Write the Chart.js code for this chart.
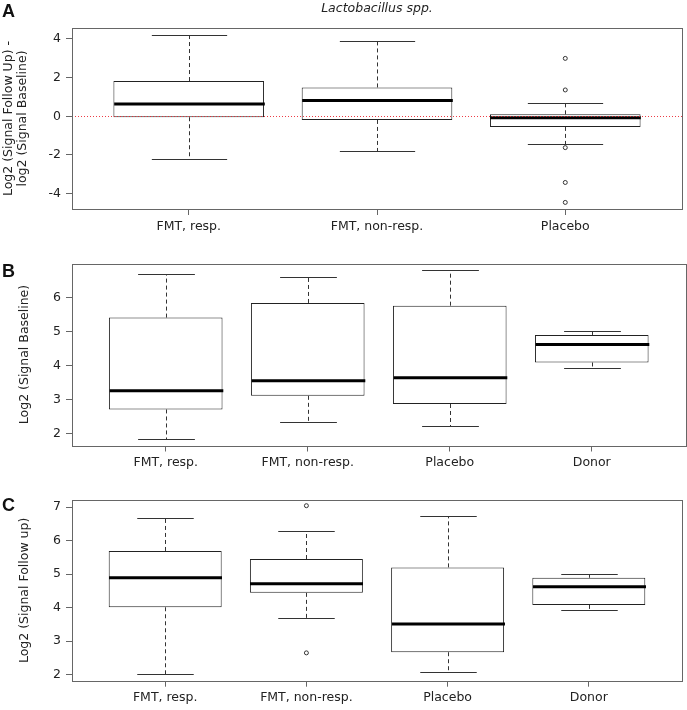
<!DOCTYPE html>
<html>
<head>
<meta charset="utf-8">
<script src="https://cdn.jsdelivr.net/npm/chart.js@4"></script>
<style>
  html, body { margin: 0; padding: 0; background: #fff; }
  #wrap { position: relative; width: 687px; height: 710px; }
  canvas { position: absolute; left: 0; }
</style>
</head>
<body>
<div id="wrap">
  <canvas id="chartA" width="687" height="240" style="top:0px"></canvas>
  <canvas id="chartB" width="687" height="236" style="top:240px"></canvas>
  <canvas id="chartC" width="687" height="234" style="top:476px"></canvas>
</div>
<script>
// Panel A: log2 follow up - log2 baseline
const catsA = ['FMT, resp.', 'FMT, non-resp.', 'Placebo'];
const minA = [-2.20, -1.80, -1.44];
const q1A = [-0.05, -0.19, -0.55];
const medA = [0.64, 0.81, -0.07];
const q3A = [1.82, 1.49, 0.10];
const maxA = [4.21, 3.90, 0.70];
const outA = [[], [], [2.99, 1.36, -1.62, -3.42, -4.45]];
const ticksA = [-4, -2, 0, 2, 4];

// Panel B: baseline
const catsB = ['FMT, resp.', 'FMT, non-resp.', 'Placebo', 'Donor'];
const minB = [1.85, 2.34, 2.21, 3.93];
const q1B = [2.71, 3.11, 2.87, 4.09];
const medB = [3.26, 3.55, 3.64, 4.62];
const q3B = [5.41, 5.84, 5.76, 4.90];
const maxB = [6.70, 6.60, 6.80, 5.01];
const outB = [[], [], [], []];
const ticksB = [2, 3, 4, 5, 6];

// Panel C: follow up
const catsC = ['FMT, resp.', 'FMT, non-resp.', 'Placebo', 'Donor'];
const minC = [2.03, 3.70, 2.07, 3.92];
const q1C = [4.01, 4.44, 2.67, 4.08];
const medC = [4.89, 4.71, 3.51, 4.62];
const q3C = [5.69, 5.45, 5.20, 4.89];
const maxC = [6.66, 6.30, 6.74, 4.99];
const outC = [[], [7.04, 2.65], [], []];
const ticksC = [2, 3, 4, 5, 6, 7];

const FONT = '"DejaVu Sans", Verdana, sans-serif';
const TXT = '#222';

function boxPanel(id, p) {
  const n = p.cats.length;
  const boxData = p.cats.map((c, i) => ({ x: i, y: [p.q1[i], p.q3[i]] }));
  const outData = [];
  p.out.forEach((arr, i) => arr.forEach(v => outData.push({ x: i, y: v })));

  // whiskers, medians, reference line, frame and panel texts
  const boxLines = {
    id: 'boxLines',
    afterDatasetsDraw(chart) {
      const ctx = chart.ctx, xs = chart.scales.x, ys = chart.scales.y;
      const bars = chart.getDatasetMeta(1).data;
      const line = (x1, y1, x2, y2) => {
        ctx.beginPath(); ctx.moveTo(x1, y1); ctx.lineTo(x2, y2); ctx.stroke();
      };
      ctx.save();
      p.cats.forEach((c, i) => {
        const cx = Math.round(xs.getPixelForValue(i)) + 0.5;
        const hw = bars[i].width / 2;
        const yMin = Math.round(ys.getPixelForValue(p.min[i])) + 0.5;
        const yMax = Math.round(ys.getPixelForValue(p.max[i])) + 0.5;
        const yQ1 = ys.getPixelForValue(p.q1[i]);
        const yQ3 = ys.getPixelForValue(p.q3[i]);
        const yMed = ys.getPixelForValue(p.med[i]);
        ctx.strokeStyle = '#333';
        ctx.lineWidth = 1;
        ctx.setLineDash([4, 3]);
        line(cx, yQ3, cx, yMax);
        line(cx, yQ1, cx, yMin);
        ctx.setLineDash([]);
        line(cx - hw / 2, yMax, cx + hw / 2, yMax);
        line(cx - hw / 2, yMin, cx + hw / 2, yMin);
        ctx.strokeStyle = '#000';
        ctx.lineWidth = 3;
        line(cx - hw, yMed, cx + hw, yMed);
      });
      const a = chart.chartArea;
      if (p.refLine !== undefined) {
        const y0 = Math.round(ys.getPixelForValue(p.refLine)) + 0.5;
        ctx.strokeStyle = 'rgba(235,40,50,0.9)';
        ctx.lineWidth = 1;
        ctx.setLineDash([1, 2]);
        line(a.left, y0, a.right, y0);
        ctx.setLineDash([]);
      }
      ctx.strokeStyle = '#666';
      ctx.lineWidth = 1;
      ctx.strokeRect(Math.round(a.left) + 0.5, Math.round(a.top) + 0.5,
        Math.round(a.right - a.left), Math.round(a.bottom - a.top));
      ctx.restore();
    },
    afterDraw(chart) {
      const ctx = chart.ctx, a = chart.chartArea;
      ctx.save();
      ctx.fillStyle = '#111';
      ctx.textBaseline = 'middle';
      ctx.textAlign = 'left';
      ctx.font = 'bold 18px "Liberation Sans", Arial, sans-serif';
      ctx.fillText(p.letter, 2, p.letterY);
      if (p.title) {
        ctx.font = 'italic 12.5px ' + FONT;
        ctx.textAlign = 'center';
        ctx.fillStyle = TXT;
        ctx.fillText(p.title, (a.left + a.right) / 2, 9);
      }
      ctx.restore();
    }
  };

  return new Chart(document.getElementById(id), {
    type: 'bar',
    data: {
      datasets: [
        {
          type: 'scatter', data: outData, pointStyle: 'circle', radius: 2,
          borderColor: '#333', backgroundColor: '#fff', borderWidth: 1, order: 0
        },
        {
          data: boxData, backgroundColor: '#fff', borderColor: '#222', borderWidth: 1,
          borderSkipped: false, barPercentage: 0.8, categoryPercentage: 1, order: 1
        }
      ]
    },
    options: {
      responsive: false,
      animation: false,
      events: [],
      layout: { padding: { top: p.padTop, right: p.padRight, left: 0, bottom: 0 } },
      plugins: { legend: { display: false }, tooltip: { enabled: false } },
      scales: {
        x: {
          type: 'linear',
          offset: false,
          min: -0.5 - 0.04 * n,
          max: n - 0.5 + 0.04 * n,
          afterBuildTicks: s => { s.ticks = p.cats.map((c, i) => ({ value: i })); },
          afterFit: s => { s.height = p.axisH; },
          border: { display: false },
          grid: { offset: false, drawOnChartArea: false, drawTicks: true, tickLength: 6, color: '#666' },
          ticks: {
            callback: v => p.cats[v], autoSkip: false, maxRotation: 0, padding: 4,
            color: TXT, font: { family: FONT, size: 12.5 }
          }
        },
        y: {
          min: p.yMin,
          max: p.yMax,
          afterBuildTicks: s => { s.ticks = p.ticks.map(v => ({ value: v })); },
          afterFit: s => { s.width = 72; },
          border: { display: false },
          grid: { drawOnChartArea: false, drawTicks: true, tickLength: 6, color: '#666' },
          ticks: { padding: 5, color: TXT, font: { family: FONT, size: 12.5 } },
          title: {
            display: true, text: p.yTitle, color: TXT,
            font: { family: FONT, size: 12.5, lineHeight: 1.18 },
            padding: { top: p.titlePad, bottom: 0 }
          }
        }
      }
    },
    plugins: [boxLines]
  });
}

boxPanel('chartA', {
  cats: catsA, min: minA, q1: q1A, med: medA, q3: q3A, max: maxA, out: outA, ticks: ticksA,
  yMin: -4.79, yMax: 4.56, refLine: 0,
  yTitle: ['Log2 (Signal Follow Up) -', 'log2 (Signal Baseline)'], titlePad: 1,
  letter: 'A', letterY: 12.5, title: 'Lactobacillus spp.',
  padTop: 28, padRight: 3, axisH: 31
});

boxPanel('chartB', {
  cats: catsB, min: minB, q1: q1B, med: medB, q3: q3B, max: maxB, out: outB, ticks: ticksB,
  yMin: 1.65, yMax: 7.0,
  yTitle: 'Log2 (Signal Baseline)', titlePad: 17,
  letter: 'B', letterY: 32.5,
  padTop: 23.5, padRight: 1.5, axisH: 30.5
});

boxPanel('chartC', {
  cats: catsC, min: minC, q1: q1C, med: medC, q3: q3C, max: maxC, out: outC, ticks: ticksC,
  yMin: 1.82, yMax: 7.21,
  yTitle: 'Log2 (Signal Follow up)', titlePad: 17,
  letter: 'C', letterY: 30,
  padTop: 24, padRight: 1.5, axisH: 29.3
});
</script>
</body>
</html>
